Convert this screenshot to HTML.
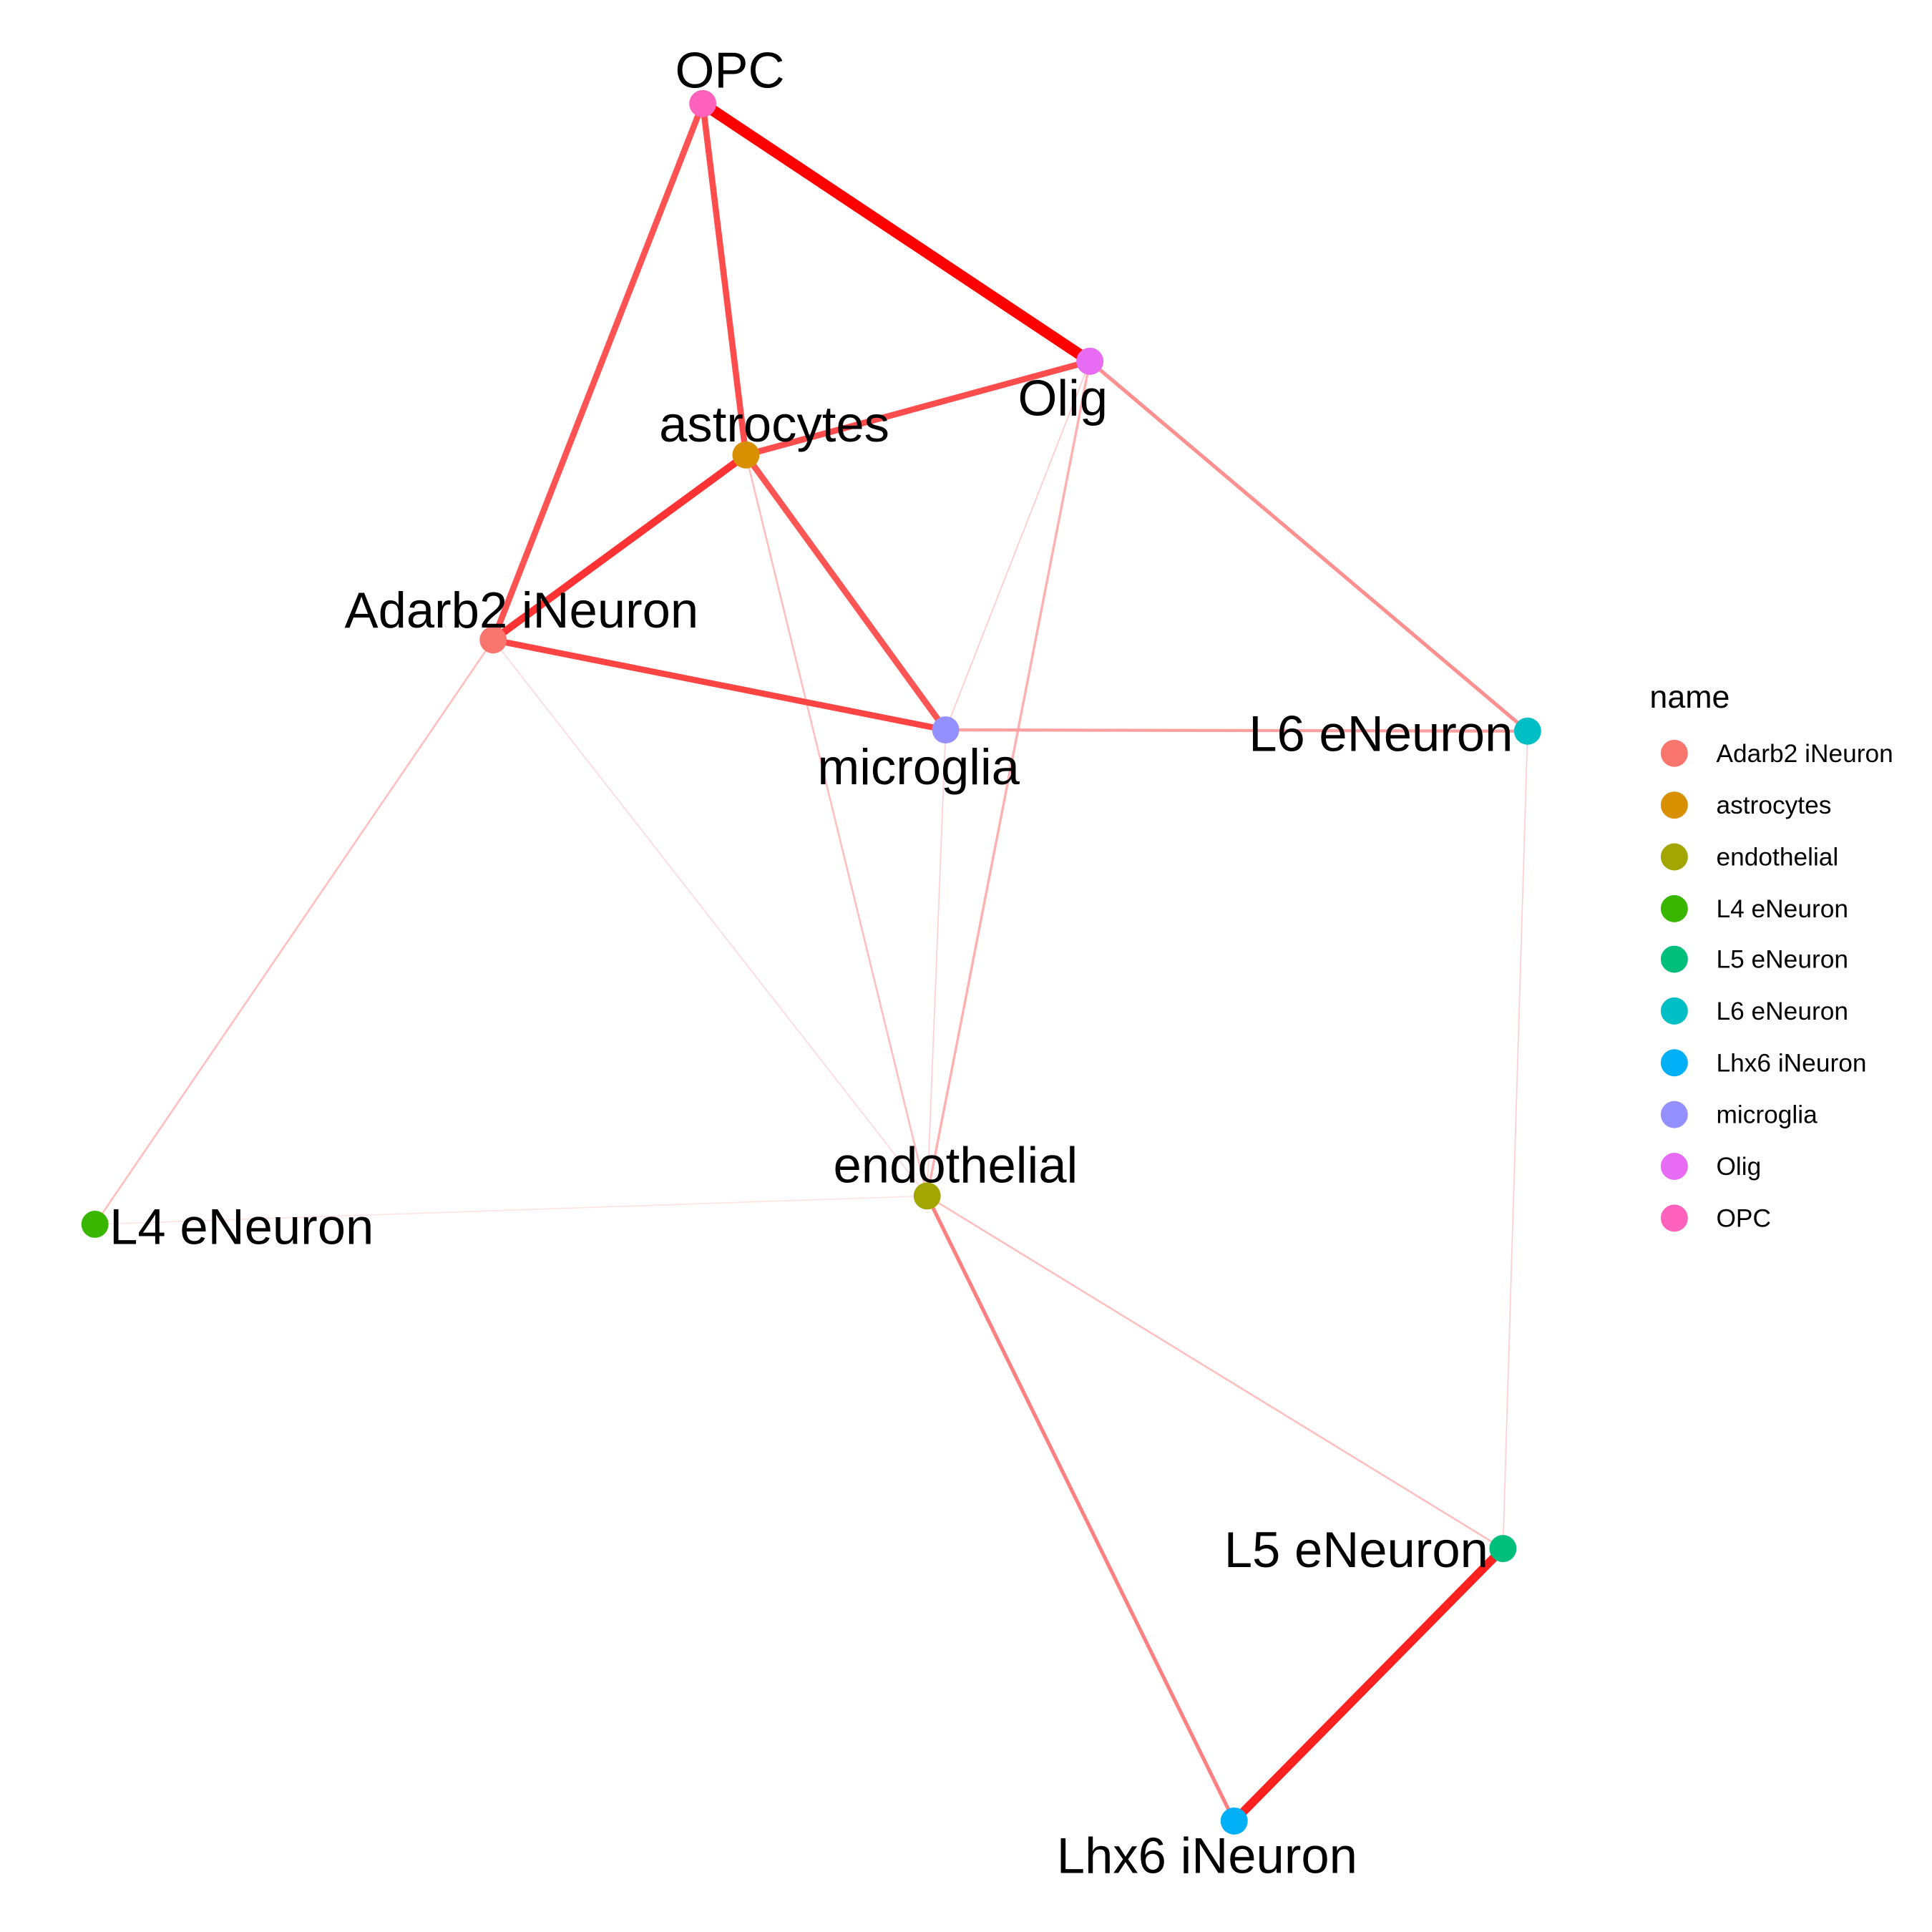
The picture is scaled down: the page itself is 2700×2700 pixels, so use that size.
<!DOCTYPE html>
<html><head><style>html,body{margin:0;padding:0;background:#fff}svg{display:block}</style></head><body>
<svg width="2700" height="2700" viewBox="0 0 1567 1567" xmlns="http://www.w3.org/2000/svg" font-family="Liberation Sans, sans-serif">
<rect width="1567" height="1567" fill="#fff"/>
<g stroke-linecap="round" fill="none">
<line x1="77" y1="993" x2="752" y2="970" stroke="#ffe4e4" stroke-width="1"/>
<line x1="400" y1="519" x2="752" y2="970" stroke="#ffdada" stroke-width="1"/>
<line x1="767" y1="592" x2="752" y2="970" stroke="#ffd0d0" stroke-width="1"/>
<line x1="884" y1="293" x2="767" y2="592" stroke="#ffcccc" stroke-width="1"/>
<line x1="1239" y1="593" x2="1219" y2="1256" stroke="#ffcfcf" stroke-width="1"/>
<line x1="400" y1="519" x2="77" y2="993" stroke="#ffbfbf" stroke-width="1.5"/>
<line x1="605" y1="369" x2="752" y2="970" stroke="#ffbfbf" stroke-width="1.5"/>
<line x1="752" y1="970" x2="1219" y2="1256" stroke="#ffbfbf" stroke-width="1.5"/>
<line x1="884" y1="293" x2="752" y2="970" stroke="#ffb0b0" stroke-width="2"/>
<line x1="767" y1="592" x2="1239" y2="593" stroke="#ffa0a0" stroke-width="2.5"/>
<line x1="884" y1="293" x2="1239" y2="593" stroke="#ff9090" stroke-width="3"/>
<line x1="752" y1="970" x2="1001" y2="1477" stroke="#ff8080" stroke-width="3"/>
<line x1="570" y1="84" x2="400" y2="519" stroke="#ff5252" stroke-width="5"/>
<line x1="570" y1="84" x2="605" y2="369" stroke="#ff4d4d" stroke-width="5"/>
<line x1="605" y1="369" x2="884" y2="293" stroke="#ff4d4d" stroke-width="5"/>
<line x1="605" y1="369" x2="767" y2="592" stroke="#ff5555" stroke-width="5"/>
<line x1="400" y1="519" x2="767" y2="592" stroke="#ff4444" stroke-width="5"/>
<line x1="605" y1="369" x2="400" y2="519" stroke="#ff3333" stroke-width="6"/>
<line x1="1219" y1="1256" x2="1001" y2="1477" stroke="#ff2020" stroke-width="7"/>
<line x1="570" y1="84" x2="884" y2="293" stroke="#ff0000" stroke-width="9"/>
</g>
<g>
<circle cx="570" cy="84" r="11" fill="#FF62BC"/>
<circle cx="884" cy="293" r="11" fill="#E76BF3"/>
<circle cx="605" cy="369" r="11" fill="#D89000"/>
<circle cx="400" cy="519" r="11" fill="#F8766D"/>
<circle cx="767" cy="592" r="11" fill="#9590FF"/>
<circle cx="1239" cy="593" r="11" fill="#00BFC4"/>
<circle cx="752" cy="970" r="11" fill="#A3A500"/>
<circle cx="77" cy="993" r="11" fill="#39B600"/>
<circle cx="1219" cy="1256" r="11" fill="#00BF7D"/>
<circle cx="1001" cy="1477" r="11" fill="#00B0F6"/>
</g>
<g font-size="41" fill="#000" text-anchor="middle">
<text x="592" y="71">OPC</text>
<text x="862" y="337">Olig</text>
<text x="628" y="358">astrocytes</text>
<text x="423" y="509">Adarb2 iNeuron</text>
<text x="745" y="636">microglia</text>
<text x="1120" y="609">L6 eNeuron</text>
<text x="775" y="959">endothelial</text>
<text x="196" y="1009">L4 eNeuron</text>
<text x="1100" y="1271">L5 eNeuron</text>
<text x="979" y="1519">Lhx6 iNeuron</text>
</g>
<text x="1338" y="574" font-size="26">name</text>
<g font-size="20.5">
<circle cx="1358" cy="611" r="11" fill="#F8766D"/><text x="1392" y="618">Adarb2 iNeuron</text>
<circle cx="1358" cy="653" r="11" fill="#D89000"/><text x="1392" y="660">astrocytes</text>
<circle cx="1358" cy="695" r="11" fill="#A3A500"/><text x="1392" y="702">endothelial</text>
<circle cx="1358" cy="737" r="11" fill="#39B600"/><text x="1392" y="744">L4 eNeuron</text>
<circle cx="1358" cy="778" r="11" fill="#00BF7D"/><text x="1392" y="785">L5 eNeuron</text>
<circle cx="1358" cy="820" r="11" fill="#00BFC4"/><text x="1392" y="827">L6 eNeuron</text>
<circle cx="1358" cy="862" r="11" fill="#00B0F6"/><text x="1392" y="869">Lhx6 iNeuron</text>
<circle cx="1358" cy="904" r="11" fill="#9590FF"/><text x="1392" y="911">microglia</text>
<circle cx="1358" cy="946" r="11" fill="#E76BF3"/><text x="1392" y="953">Olig</text>
<circle cx="1358" cy="988" r="11" fill="#FF62BC"/><text x="1392" y="995">OPC</text>
</g>
</svg>
</body></html>
